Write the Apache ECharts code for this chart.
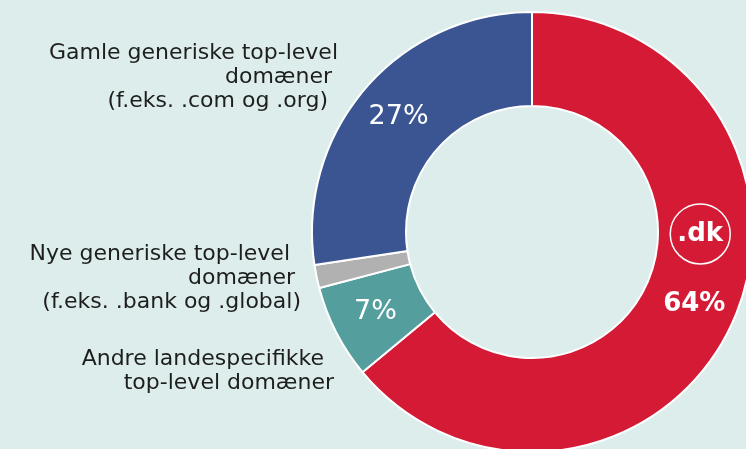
<!DOCTYPE html>
<html>
<head>
<meta charset="utf-8">
<script src="https://cdn.jsdelivr.net/npm/echarts@6/dist/echarts.min.js"></script>
<style>
  html, body { margin: 0; padding: 0; background: #dcedec; }
  #chart { width: 746px; height: 449px; }
</style>
</head>
<body>
<div id="chart"></div>
<script>
// andele af domæner (procent), læst fra figuren
const names = ['.dk', 'Andre landespecifikke top-level domæner', 'Nye generiske top-level domæner', 'Gamle generiske top-level domæner'];
const values = [64.0, 6.9, 1.7, 27.4];
const pctLabels = ['64%', '7%', '', '27%'];
const colors = ['#d41a35', '#549e9d', '#b2b1b1', '#3b5593'];

const sideLabels = [
  ['Gamle generiske top-level', 'domæner', '(f.eks. .com og .org)'],
  ['Nye generiske top-level', 'domæner', '(f.eks. .bank og .global)'],
  ['Andre landespecifikke', 'top-level domæner']
];

const font = '"DejaVu Sans", sans-serif';

let myChart = echarts.init(document.getElementById('chart'));

let pieData = names.map((n, i) => {
  let item = {
    name: n,
    value: values[i],
    itemStyle: {color: colors[i]},
    label: {show: pctLabels[i] !== ''}
  };
  if (i == 0) {
    item.label = {
      show: true,
      offset: [9, -45],
      formatter: '{dk|.dk}\n{gap|}\n{big|64%}',
      rich: {
        dk: {
          color: '#fff', fontSize: 26, fontWeight: 'bold', fontFamily: font,
          width: 60, height: 60, lineHeight: 60, align: 'center',
          borderColor: '#fff', borderWidth: 1.5, borderRadius: 30
        },
        gap: {height: 24},
        big: {
          color: '#fff', fontSize: 26, fontWeight: 'bold', fontFamily: font,
          align: 'center', lineHeight: 32, padding: [0, 12, 0, 0]
        }
      }
    };
  }
  return item;
});

// tekst til venstre (højrekant pr. linje, lidt ujævn som i originalen)
let graphics = [];
let blocks = [
  {y: 53, xs: [338, 332, 328], lines: sideLabels[0]},
  {y: 254, xs: [290, 295, 301], lines: sideLabels[1]},
  {y: 359, xs: [324, 334], lines: sideLabels[2]}
];
blocks.forEach(b => {
  b.lines.forEach((t, j) => {
    graphics.push({
      type: 'text',
      x: b.xs[j],
      y: b.y + j * 24,
      style: {
        text: t,
        fill: '#1e1e1e',
        font: '22px ' + font,
        textAlign: 'right',
        textVerticalAlign: 'middle'
      }
    });
  });
});

myChart.setOption({
  backgroundColor: '#dcedec',
  animation: false,
  graphic: graphics,
  series: [
    {
      type: 'pie',
      center: [532, 232],
      radius: [126, 220],
      startAngle: 90,
      clockwise: true,
      avoidLabelOverlap: false,
      itemStyle: {borderColor: '#fff', borderWidth: 2},
      label: {
        position: 'inside',
        color: '#fff',
        fontSize: 27,
        fontFamily: font,
        formatter: (p) => pctLabels[p.dataIndex]
      },
      labelLine: {show: false},
      emphasis: {disabled: true},
      data: pieData
    }
  ]
});
</script>
</body>
</html>
